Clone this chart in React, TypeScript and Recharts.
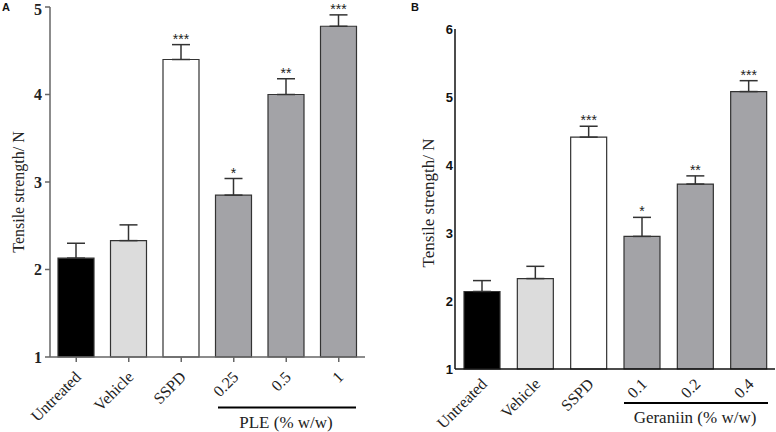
import { BarChart, Bar, XAxis, YAxis, Cell, ErrorBar, LabelList } from "recharts";

// Panel A: PLE
const categoriesA = ["Untreated", "Vehicle", "SSPD", "0.25", "0.5", "1"];
const meansA = [2.13, 2.33, 4.4, 2.85, 4.0, 4.78];
const errA = [0.17, 0.18, 0.17, 0.19, 0.18, 0.13];
const starsA = ["", "", "***", "*", "**", "***"];
const ticksA = [1, 2, 3, 4, 5];

// Panel B: Geraniin
const categoriesB = ["Untreated", "Vehicle", "SSPD", "0.1", "0.2", "0.4"];
const meansB = [2.14, 2.33, 4.41, 2.95, 3.72, 5.08];
const errB = [0.16, 0.18, 0.16, 0.28, 0.12, 0.16];
const starsB = ["", "", "***", "*", "**", "***"];
const ticksB = [1, 2, 3, 4, 5, 6];

const FILLS = ["#000000", "#dcdcdc", "#ffffff", "#a3a3a7", "#a3a3a7", "#a3a3a7"];
const SERIF = '"Liberation Serif", "Times New Roman", serif';
const SANS = '"Liberation Sans", Arial, sans-serif';

const build = (cats: string[], means: number[], errs: number[], stars: string[]) =>
  cats.map((name, i) => ({ name, value: means[i], err: [0, errs[i]], stars: stars[i] }));

const dataA = build(categoriesA, meansA, errA, starsA);
const dataB = build(categoriesB, meansB, errB, starsB);

function starLabel(means: number[], errs: number[], base: number) {
  return (props: any) => {
    const { x, y, width, height, index, value } = props;
    if (!value) return null;
    const pxPerUnit = height / (means[index] - base);
    const top = y - errs[index] * pxPerUnit;
    return (
      <text x={x + width / 2} y={top - 1} textAnchor="middle" fontSize={14} fontFamily={SANS} fill="#222">
        {value}
      </text>
    );
  };
}

// category names under each bar, turned 45 degrees, anchored at their end
function catLabel(dx: number, dy: number) {
  return (props: any) => {
    const { x, y, width, height, value } = props;
    const ax = x + width / 2 + dx;
    const ay = y + height + dy;
    return (
      <g transform={`translate(${ax}, ${ay}) rotate(-45)`}>
        <text x={0} y={0} textAnchor="end" fontSize={16} fontFamily={SERIF} fill="#222">
          {value}
        </text>
      </g>
    );
  };
}

function yLabel(cx: number, cy: number, size: number) {
  return () => (
    <g transform={`translate(${cx}, ${cy}) rotate(-90)`}>
      <text x={0} y={0} textAnchor="middle" dominantBaseline="central" fontSize={size} fontFamily={SERIF} fill="#222">
        Tensile strength/ N
      </text>
    </g>
  );
}

export default function App() {
  return (
    <div style={{ position: "absolute", left: 0, top: 0, width: 776, height: 432, background: "#fff" }}>
      {/* Panel A */}
      <div style={{ position: "absolute", left: 0, top: 0 }}>
        <BarChart width={390} height={432} data={dataA} margin={{ top: 7, right: 25, left: 0, bottom: 15 }}>
          <XAxis
            dataKey="name"
            height={60}
            stroke="#666"
            strokeWidth={1.5}
            tickSize={5}
            interval={0}
            tick={{ fill: "transparent" }}
          />
          <YAxis
            width={50}
            domain={[1, 5]}
            ticks={ticksA}
            stroke="#666"
            strokeWidth={1.5}
            tickSize={5}
            tickMargin={3}
            tick={{ fontSize: 16, fontWeight: "bold", fontFamily: SERIF, fill: "#222" }}
            label={{ content: yLabel(18, 192, 16) }}
          />
          <Bar dataKey="value" barSize={36} stroke="#333" strokeWidth={1.2} isAnimationActive={false}>
            {dataA.map((d, i) => (
              <Cell key={d.name} fill={FILLS[i]} />
            ))}
            <ErrorBar dataKey="err" width={9} stroke="#333" strokeWidth={1.5} direction="y" />
            <LabelList dataKey="stars" content={starLabel(meansA, errA, 1)} />
            <LabelList dataKey="name" content={catLabel(6, 21)} />
          </Bar>
        </BarChart>
      </div>

      {/* Panel B */}
      <div style={{ position: "absolute", left: 386, top: 0 }}>
        <BarChart width={390} height={432} data={dataB} margin={{ top: 29, right: 1, left: 0, bottom: 3 }}>
          <XAxis
            dataKey="name"
            height={60}
            stroke="#111"
            strokeWidth={1.5}
            tickLine={false}
            interval={0}
            tick={false}
          />
          <YAxis
            width={69}
            domain={[1, 6]}
            ticks={ticksB}
            stroke="#111"
            strokeWidth={1.5}
            tickLine={false}
            tickSize={0}
            tickMargin={2}
            tick={{ fontSize: 13, fontWeight: "bold", fontFamily: SANS, fill: "#111" }}
            label={{ content: yLabel(42, 203, 17) }}
          />
          <Bar dataKey="value" barSize={36} stroke="#333" strokeWidth={1.2} isAnimationActive={false}>
            {dataB.map((d, i) => (
              <Cell key={d.name} fill={FILLS[i]} />
            ))}
            <ErrorBar dataKey="err" width={9} stroke="#333" strokeWidth={1.5} direction="y" />
            <LabelList dataKey="stars" content={starLabel(meansB, errB, 1)} />
            <LabelList dataKey="name" content={catLabel(6, 16)} />
          </Bar>
        </BarChart>
      </div>

      {/* panel letters and group labels */}
      <svg width={776} height={432} style={{ position: "absolute", left: 0, top: 0, pointerEvents: "none" }}>
        <text x={2} y={11} fontSize={11} fontWeight="bold" fontFamily={SANS} fill="#111">A</text>
        <text x={411} y={11} fontSize={11} fontWeight="bold" fontFamily={SANS} fill="#111">B</text>
        <line x1={218} y1={407.5} x2={356} y2={407.5} stroke="#000" strokeWidth={2} />
        <text x={286} y={428} textAnchor="middle" fontSize={17} fontFamily={SERIF} fill="#222">PLE (% w/w)</text>
        <line x1={624} y1={403} x2={768} y2={403} stroke="#000" strokeWidth={2} />
        <text x={695} y={423} textAnchor="middle" fontSize={17} fontFamily={SERIF} fill="#222">Geraniin (% w/w)</text>
      </svg>
    </div>
  );
}
